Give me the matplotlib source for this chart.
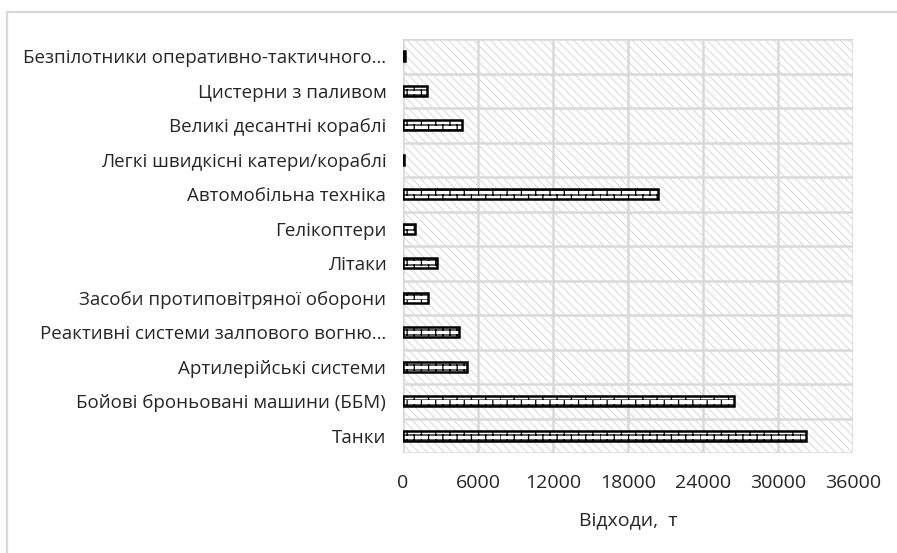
import warnings
import numpy as np
import matplotlib
matplotlib.use("Agg")
import matplotlib.pyplot as plt
import matplotlib.hatch as mhatch
from matplotlib.patches import Rectangle
from matplotlib.path import Path

warnings.filterwarnings("ignore")

categories = [
    "Танки",
    "Бойові броньовані машини (ББМ)",
    "Артилерійські системи",
    "Реактивні системи залпового вогню…",
    "Засоби протиповітряної оборони",
    "Літаки",
    "Гелікоптери",
    "Автомобільна техніка",
    "Легкі швидкісні катери/кораблі",
    "Великі десантні кораблі",
    "Цистерни з паливом",
    "Безпілотники оперативно-тактичного…",
]
values = [32200, 26500, 5100, 4500, 2000, 2750, 950, 20400, 60, 4700, 1900, 120]
xticks = [0, 6000, 12000, 18000, 24000, 30000, 36000]
xlabel = "Відходи,  т"


# custom brick hatch ('b')
class BrickHatch(mhatch.HatchPatternBase):
    def __init__(self, hatch, density):
        self.n = hatch.count('b')
        self.rows = 20
        self.cols = 7
        if self.n:
            self.num_vertices = self.rows * 2 + self.rows * self.cols * 2
        else:
            self.num_vertices = 0

    def set_vertices_and_codes(self, vertices, codes):
        R, C = self.rows, self.cols
        k = 0
        for r in range(R):
            y0 = r / R
            y1 = (r + 1) / R
            vertices[k] = (0.0, y0); codes[k] = Path.MOVETO; k += 1
            vertices[k] = (1.0, y0); codes[k] = Path.LINETO; k += 1
            off = 0.5 * (r % 2)
            for c in range(C):
                x = (c + off) / C
                vertices[k] = (x, y0); codes[k] = Path.MOVETO; k += 1
                vertices[k] = (x, y1); codes[k] = Path.LINETO; k += 1


mhatch._hatch_types.append(BrickHatch)
mhatch._validate_hatch_pattern = lambda h: None

plt.rcParams['font.family'] = ['Open Sans', 'DejaVu Sans']
text_color = '#262626'

fig = plt.figure(figsize=(8.97, 5.53), dpi=100)
fig.patch.set_facecolor('white')

# outer chart border
fig.patches.append(Rectangle((7 / 897, -0.05), 1.2, 1 - 12 / 553 + 0.05,
                             transform=fig.transFigure, fill=False,
                             edgecolor='#d9d9d9', linewidth=1.6, zorder=0))

ax = fig.add_axes([403 / 897, 1 - 453 / 553, (853 - 403) / 897, (453 - 39) / 553])

# hatched background
plt.rcParams['hatch.linewidth'] = 0.6
bg = Rectangle((0, 0), 1, 1, transform=ax.transAxes, facecolor='white',
               edgecolor='#d2d2d2', hatch='\\\\\\\\', linewidth=0, zorder=0)
ax.add_patch(bg)

plt.rcParams['hatch.linewidth'] = 0.9
y = np.arange(len(categories))
ax.barh(y, values, height=0.3, color='white', edgecolor='black',
        linewidth=1.8, hatch='b', zorder=3)

ax.set_xlim(0, 36000)
ax.set_ylim(-0.5, len(categories) - 0.5)
ax.set_xticks(xticks)
ax.set_xticklabels([str(v) for v in xticks])
ax.set_yticks(y)
ax.set_yticklabels(categories)
ax.tick_params(axis='both', length=0, colors=text_color)
ax.tick_params(axis='y', pad=12, labelsize=13.5)
ax.tick_params(axis='x', pad=15, labelsize=14)

# grid
for v in xticks:
    ax.axvline(v, color='#d9d9d9', linewidth=1.8, zorder=1)
for b in np.arange(-0.5, len(categories), 1.0):
    ax.axhline(b, color='#d9d9d9', linewidth=1.8, zorder=1)

for s in ax.spines.values():
    s.set_visible(False)

ax.set_xlabel(xlabel, fontsize=14, color=text_color, labelpad=14)

fig.savefig('out.png', dpi=100, facecolor='white')
